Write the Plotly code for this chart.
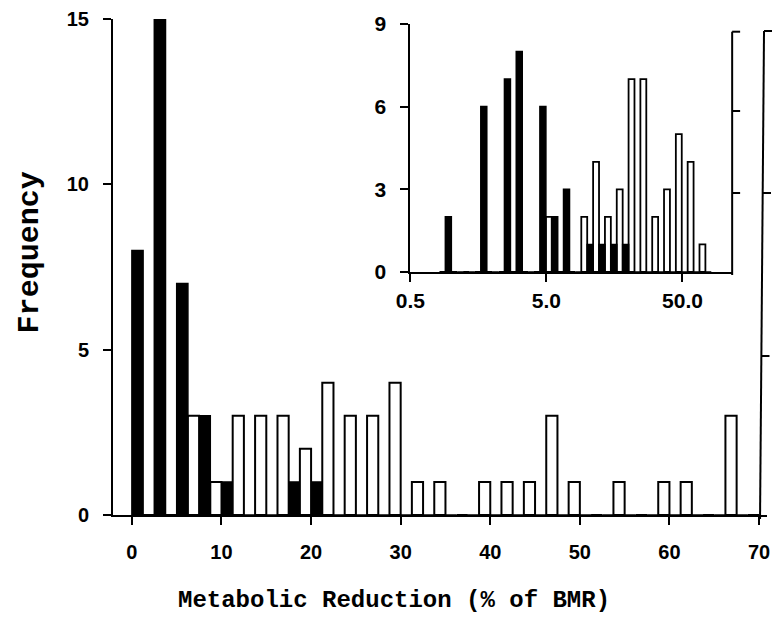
import numpy as np
import plotly.graph_objects as go

# ---------------- data ----------------
# main histogram: bins of 2.5 % BMR (lower edges)
main_bins = [0, 2.5, 5, 7.5, 10, 12.5, 15, 17.5, 20, 22.5, 25, 27.5, 30, 32.5,
             35, 37.5, 40, 42.5, 45, 47.5, 50, 52.5, 55, 57.5, 60, 62.5, 65, 67.5]
main_black = [8, 15, 7, 3, 1, 0, 0, 1, 1, 0, 0, 0, 0, 0,
              0, 0, 0, 0, 0, 0, 0, 0, 0, 0, 0, 0, 0, 0]
main_white = [0, 0, 3, 1, 3, 3, 3, 2, 4, 3, 3, 4, 1, 1,
              0, 1, 1, 1, 3, 1, 0, 1, 0, 1, 1, 0, 3, 0]

# inset histogram: bins of 0.2 in ln(% BMR) (lower edges, ln units)
inset_bins_ln = [-0.2, 0.0, 0.2, 0.4, 0.6, 0.8, 1.0, 1.2, 1.4, 1.6, 1.8, 2.0,
                 2.2, 2.4, 2.6, 2.8, 3.0, 3.2, 3.4, 3.6, 3.8, 4.0, 4.2]
inset_black = [2, 0, 0, 6, 0, 7, 8, 0, 6, 2, 3, 0,
               1, 1, 1, 1, 0, 0, 0, 0, 0, 0, 0]
inset_white = [0, 0, 0, 0, 0, 0, 0, 0, 0, 2, 0, 0,
               2, 4, 2, 3, 7, 7, 2, 3, 5, 4, 1]

main_xticks = [0, 10, 20, 30, 40, 50, 60, 70]
main_yticks = [0, 5, 10, 15]
inset_xtick_values = [0.5, 5.0, 50.0]
inset_xtick_labels = ["0.5", "5.0", "50.0"]
inset_yticks = [0, 3, 6, 9]

# ---------------- layout geometry ----------------
W, H = 776, 618
L, R, T, B = 113, 6, 19, 103
pw, ph = W - L - R, H - T - B

def px_x(p):
    return (p - L) / pw

def px_y(p):
    return (H - B - p) / ph

main_xrange = [-2.11, 70.89]
main_yrange = [0, 15]
inset_xrange = [float(np.log(0.5)), 4.753]
inset_yrange = [0, 9]
inset_xdom = [px_x(411.7), px_x(735)]
inset_ydom = [px_y(272), px_y(24)]

tick_font = dict(family="Liberation Sans", size=20, color="black", weight="bold")
inset_tick_font = dict(family="Liberation Sans", size=21, color="black", weight="bold")
mono = "Courier New, Liberation Mono, Courier, monospace"

fig = go.Figure()

fig.add_trace(go.Bar(x=main_bins, y=main_black, width=1.25, offset=0,
                     marker=dict(color="black", line=dict(color="black", width=1.5)),
                     xaxis="x", yaxis="y", showlegend=False))
fig.add_trace(go.Bar(x=main_bins, y=main_white, width=1.25, offset=1.25,
                     marker=dict(color="white", line=dict(color="black", width=2)),
                     xaxis="x", yaxis="y", showlegend=False))
fig.add_trace(go.Bar(x=inset_bins_ln, y=inset_white, width=0.1, offset=0,
                     marker=dict(color="white", line=dict(color="black", width=1.8)),
                     xaxis="x2", yaxis="y2", showlegend=False))
fig.add_trace(go.Bar(x=inset_bins_ln, y=inset_black, width=0.1, offset=0.1,
                     marker=dict(color="black", line=dict(color="black", width=1.6)),
                     xaxis="x2", yaxis="y2", showlegend=False))

axis_common = dict(showline=True, linecolor="black", linewidth=2, ticks="outside",
                   ticklen=8, tickwidth=2, tickcolor="black", showgrid=False,
                   zeroline=False)

fig.update_layout(
    width=W, height=H, margin=dict(l=L, r=R, t=T, b=B),
    paper_bgcolor="white", plot_bgcolor="white", barmode="overlay",
    xaxis=dict(range=main_xrange, tickvals=main_xticks, domain=[0, 1],
               anchor="y", ticklabelstandoff=10, tickfont=tick_font, **axis_common),
    yaxis=dict(range=main_yrange, tickvals=main_yticks, domain=[0, 1],
               anchor="x", ticklabelstandoff=10, tickfont=tick_font, **axis_common),
    xaxis2=dict(range=inset_xrange, tickvals=[float(np.log(v)) for v in inset_xtick_values],
                ticktext=inset_xtick_labels, domain=inset_xdom, anchor="y2",
                ticklabelstandoff=1, tickfont=inset_tick_font, **axis_common),
    yaxis2=dict(range=inset_yrange, tickvals=inset_yticks, domain=inset_ydom,
                anchor="x2", ticklabelstandoff=10, tickfont=inset_tick_font, **axis_common),
)

# axis titles
fig.add_annotation(text="<b>Metabolic Reduction (% of BMR)</b>", xref="paper", yref="paper",
                   x=px_x(395), y=px_y(600), showarrow=False,
                   font=dict(family=mono, size=24, color="black"),
                   xanchor="center", yanchor="middle")
fig.add_annotation(text="<b>Frequency</b>", xref="paper", yref="paper",
                   x=px_x(30), y=px_y(252), showarrow=False, textangle=-90,
                   font=dict(family=mono, size=30, color="black"),
                   xanchor="center", yanchor="middle")

# scanned right-hand frame lines
line_style = dict(color="black", width=2)
shapes = []
# inset right edge with outward ticks
xr = px_x(735)
shapes.append(dict(type="line", xref="paper", yref="paper", x0=xr, x1=xr,
                   y0=px_y(275), y1=px_y(31.7), line=line_style))
for yy in [31.7, 111, 193]:
    shapes.append(dict(type="line", xref="paper", yref="paper", x0=xr, x1=px_x(743),
                       y0=px_y(yy), y1=px_y(yy), line=line_style))
# main right edge
shapes.append(dict(type="line", xref="paper", yref="paper", x0=px_x(767), x1=px_x(763),
                   y0=px_y(31), y1=px_y(519), line=line_style))
for yy, xx in [(31, 767), (193, 766), (356, 764.5)]:
    shapes.append(dict(type="line", xref="paper", yref="paper", x0=px_x(xx), x1=px_x(xx + 8),
                       y0=px_y(yy), y1=px_y(yy), line=line_style))
fig.update_layout(shapes=shapes)

fig.write_html("out.html")
